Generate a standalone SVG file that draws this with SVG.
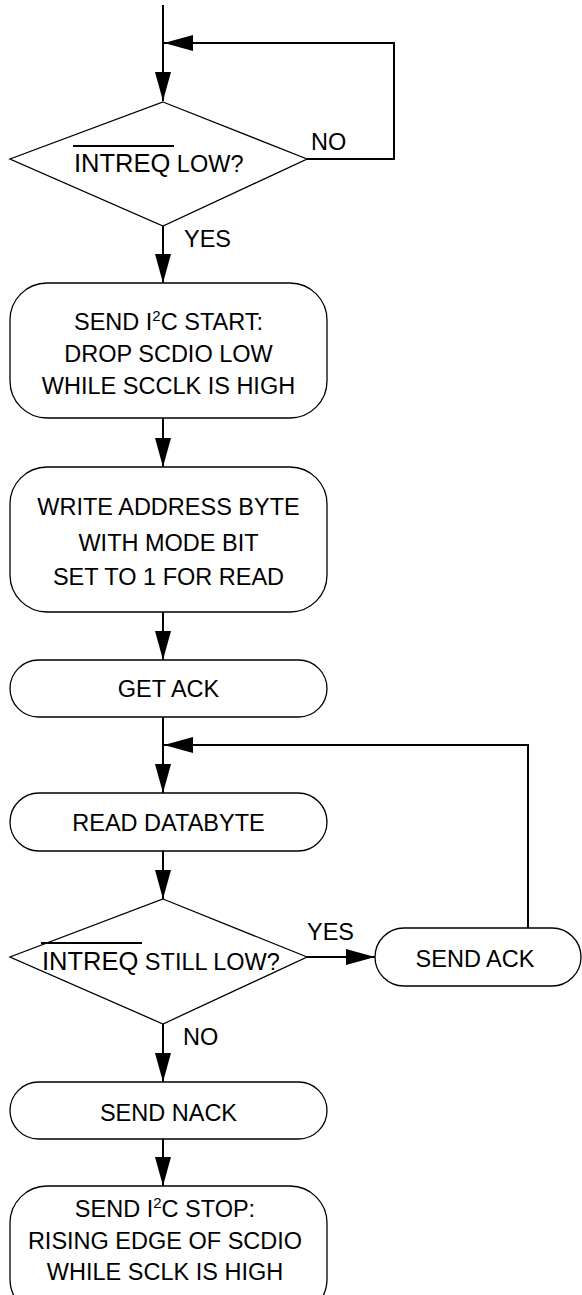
<svg xmlns="http://www.w3.org/2000/svg" width="582" height="1295" viewBox="0 0 582 1295">
<style>
.box{fill:#fff;stroke:#000;stroke-width:1.3}
.con{fill:none;stroke:#000;stroke-width:2}
text{font-family:"Liberation Sans",Arial,sans-serif;font-size:23.5px;fill:#000}
.c{text-anchor:middle}
.ov{stroke:#000;stroke-width:2}
</style>
<defs>
<marker id="ah" markerUnits="userSpaceOnUse" markerWidth="30" markerHeight="18" refX="29" refY="8" orient="auto">
<path d="M0,0 L29,8 L0,16 Z" fill="#000"/>
</marker>
</defs>
<g id="connectors">
<path class="con" d="M163,5 V101" marker-end="url(#ah)"/>
<path class="con" d="M307,159 H394 V43 H164" marker-end="url(#ah)"/>
<path class="con" d="M163,226 V283" marker-end="url(#ah)"/>
<path class="con" d="M163,418 V467" marker-end="url(#ah)"/>
<path class="con" d="M163,612 V660" marker-end="url(#ah)"/>
<path class="con" d="M163,717 V793" marker-end="url(#ah)"/>
<path class="con" d="M528,928 V745 H164" marker-end="url(#ah)"/>
<path class="con" d="M163,851 V899" marker-end="url(#ah)"/>
<path class="con" d="M307,957 H375" marker-end="url(#ah)"/>
<path class="con" d="M163,1024 V1082" marker-end="url(#ah)"/>
<path class="con" d="M163,1139 V1186" marker-end="url(#ah)"/>
<text x="311" y="150">NO</text>
<text x="184" y="247">YES</text>
<text x="307" y="940">YES</text>
<text x="183" y="1045">NO</text>
</g>
<g id="d1">
<polygon class="box" points="163,102 307,159 163,226 10,159"/>
<line class="ov" x1="73" y1="146" x2="174" y2="146"/>
<text x="74" y="172"><tspan font-size="25.5">INTREQ</tspan> LOW?</text>
</g>
<g id="b2">
<rect class="box" x="10" y="283" width="317" height="135" rx="37"/>
<text class="c" x="168.5" y="330">SEND I<tspan font-size="15" dy="-9">2</tspan><tspan dy="9">C START:</tspan></text>
<text class="c" x="168.5" y="362">DROP SCDIO LOW</text>
<text class="c" x="168.5" y="394">WHILE SCCLK IS HIGH</text>
</g>
<g id="b3">
<rect class="box" x="10" y="467" width="317" height="145" rx="37"/>
<text class="c" x="168.5" y="515">WRITE ADDRESS BYTE</text>
<text class="c" x="168.5" y="551">WITH MODE BIT</text>
<text class="c" x="168.5" y="585">SET TO 1 FOR READ</text>
</g>
<g id="b4">
<rect class="box" x="10" y="660" width="317" height="57" rx="28.5"/>
<text class="c" x="168.5" y="697">GET ACK</text>
</g>
<g id="b5">
<rect class="box" x="10" y="793" width="317" height="58" rx="29"/>
<text class="c" x="168.5" y="831">READ DATABYTE</text>
</g>
<g id="d2">
<polygon class="box" points="163,899 307,957 163,1024 10,957"/>
<line class="ov" x1="41" y1="943" x2="142" y2="943"/>
<text x="42" y="970"><tspan font-size="25.5">INTREQ</tspan> STILL LOW?</text>
</g>
<g id="b6">
<rect class="box" x="375" y="928" width="206" height="58" rx="29"/>
<text class="c" x="475" y="967">SEND ACK</text>
</g>
<g id="b7">
<rect class="box" x="10" y="1082" width="317" height="57" rx="28.5"/>
<text class="c" x="168.5" y="1121">SEND NACK</text>
</g>
<g id="b8">
<rect class="box" x="10" y="1186" width="317" height="130" rx="37"/>
<text class="c" x="165" y="1217">SEND I<tspan font-size="15" dy="-9">2</tspan><tspan dy="9">C STOP:</tspan></text>
<text class="c" x="165" y="1249">RISING EDGE OF SCDIO</text>
<text class="c" x="165" y="1280">WHILE SCLK IS HIGH</text>
</g>
</svg>
